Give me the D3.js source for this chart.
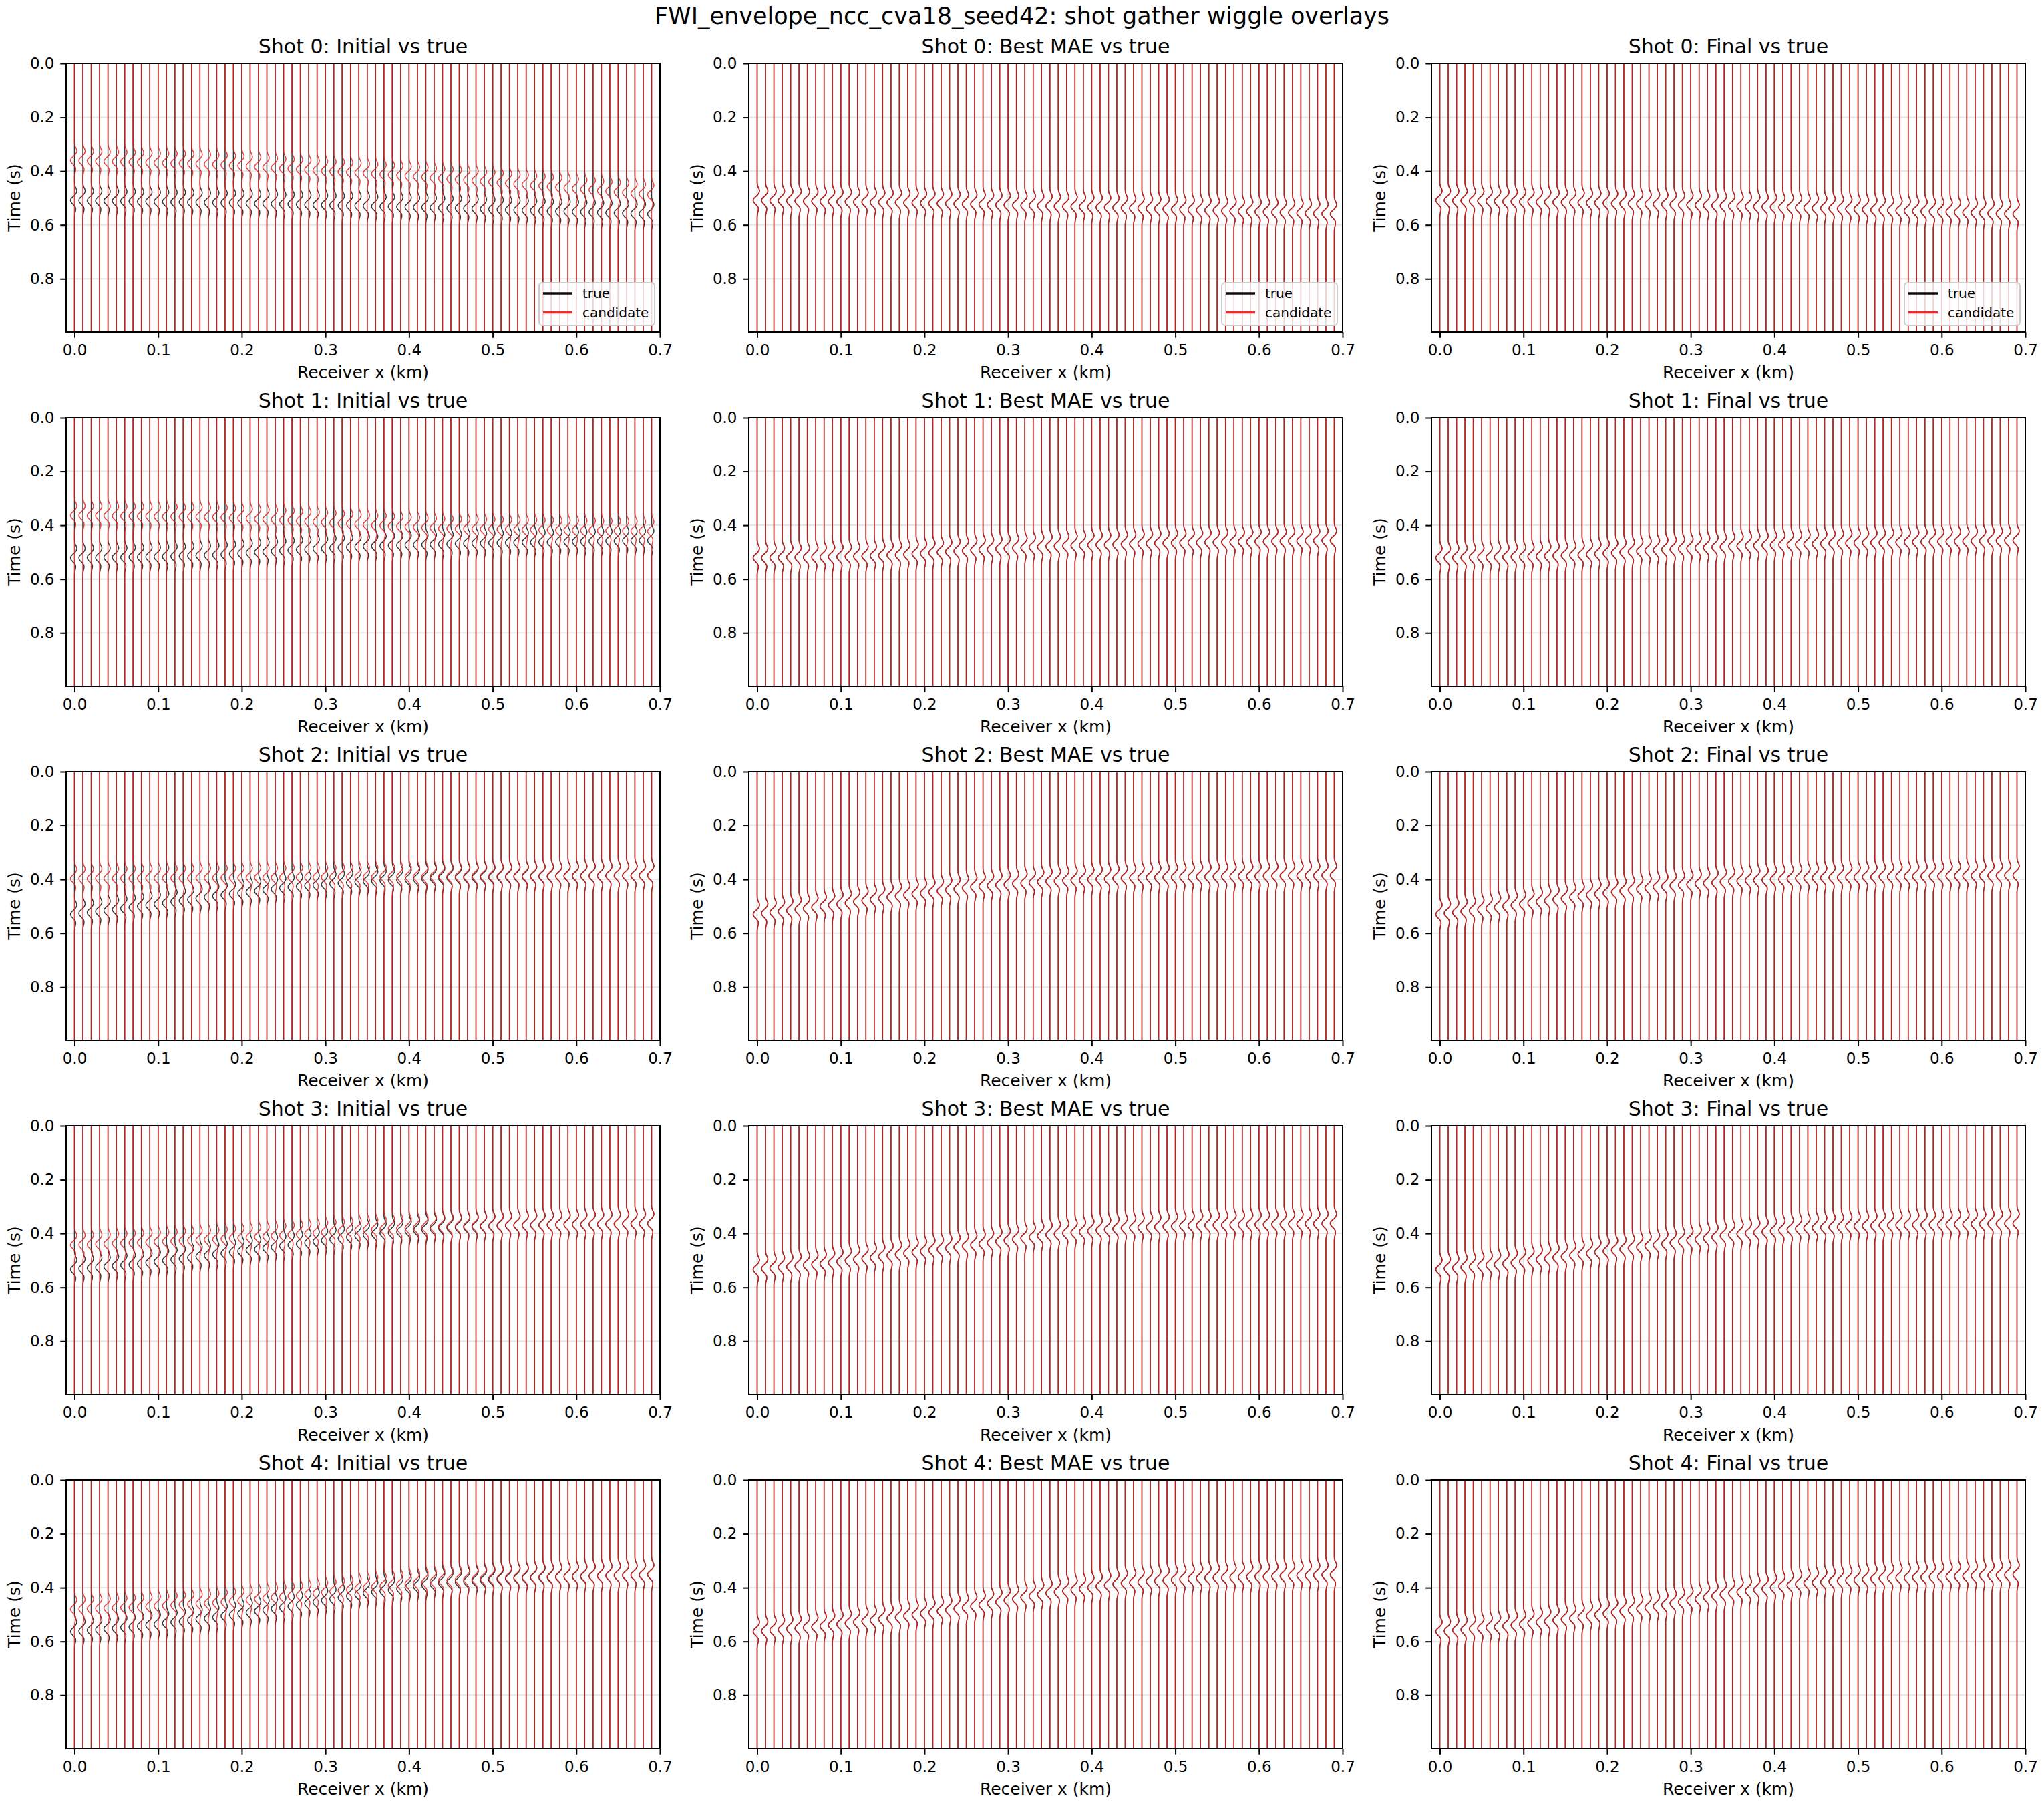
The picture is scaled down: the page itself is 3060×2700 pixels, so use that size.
<!DOCTYPE html>
<html><head><meta charset="utf-8">
<script src="https://cdn.jsdelivr.net/npm/d3@7"></script>
<style>body{margin:0;background:#fff} text{font-family:"DejaVu Sans",sans-serif;fill:#000}</style>
</head><body><svg id="c" width="3060" height="2700"></svg>
<script>
// ---------- data ----------
const receivers = [0.00,0.01,0.02,0.03,0.04,0.05,0.06,0.07,0.08,0.09,0.10,0.11,0.12,0.13,0.14,0.15,0.16,0.17,0.18,0.19,
  0.20,0.21,0.22,0.23,0.24,0.25,0.26,0.27,0.28,0.29,0.30,0.31,0.32,0.33,0.34,0.35,0.36,0.37,0.38,0.39,
  0.40,0.41,0.42,0.43,0.44,0.45,0.46,0.47,0.48,0.49,0.50,0.51,0.52,0.53,0.54,0.55,0.56,0.57,0.58,0.59,
  0.60,0.61,0.62,0.63,0.64,0.65,0.66,0.67,0.68,0.69];
const xTicks = [0.0,0.1,0.2,0.3,0.4,0.5,0.6,0.7];
const xTickLabels = ["0.0","0.1","0.2","0.3","0.4","0.5","0.6","0.7"];
const yTicks = [0.0,0.2,0.4,0.6,0.8];
const yTickLabels = ["0.0","0.2","0.4","0.6","0.8"];
const timeRange = [0, 0.998];
const xRange = [-0.01, 0.70];
// wavelet shape (time offset from main lobe, normalised deflection)
const waveletTau = [-0.070,-0.060,-0.050,-0.042,-0.035,-0.028,-0.020,-0.012,-0.006,0,0.006,0.012,0.018,0.024,0.030,0.036,0.044,0.054,0.064];
const waveletAmp = [0,0.04,0.22,0.48,0.58,0.45,0.08,-0.5,-0.88,-1,-0.88,-0.55,-0.15,0.15,0.3,0.3,0.18,0.05,0];
const shotLabels = ["Shot 0","Shot 1","Shot 2","Shot 3","Shot 4"];
const modelLabels = ["Initial","Best MAE","Final"];
const legendLabels = ["true","candidate"];
const suptitle = "FWI_envelope_ncc_cva18_seed42: shot gather wiggle overlays";

// main-lobe arrival time (s) per receiver, true model
const trueArrivals = [
 [.509,.509,.510,.510,.511,.511,.512,.512,.513,.513,.514,.514,.515,.515,.516,.516,.517,.517,
  .518,.518,.519,.520,.521,.521,.522,.523,.523,.524,.525,.526,.526,.527,.528,.528,.529,.530,
  .531,.532,.532,.533,.534,.535,.535,.536,.537,.538,.538,.539,.540,
  .541,.542,.543,.544,.545,.546,.547,.548,.549,.550,.550,.551,.552,.553,.554,.555,.556,.557,.558,.559,.560],
 [.521,.521,.520,.520,.519,.519,.519,.518,.518,.517,.517,
  .516,.515,.514,.513,.512,.511,.510,
  .508,.506,.504,.502,.500,.498,.496,.494,.492,
  .490,.489,.487,.486,.484,.483,.481,.480,.478,
  .477,.476,.475,.474,.473,.472,.472,.471,.470,.469,.468,.467,.466,
  .466,.465,.465,.464,.464,.463,.463,.462,.462,.461,.461,.460,.460,.459,.459,.458,.458,.457,.457,.456,.456],
 [.530,.526,.523,.519,.516,.512,
  .508,.504,.500,.496,.492,
  .488,.483,.479,.475,.471,.466,.462,
  .458,.454,.451,.447,.443,.439,.436,.432,.428,
  .426,.423,.421,.419,.416,.414,.412,.409,.407,
  .406,.404,.403,.402,.400,.399,.398,.396,.395,
  .394,.394,.393,.393,.392,.392,.391,.391,.390,.390,.389,
  .389,.389,.388,.388,.388,.387,.387,.387,.386,.386,.386,.386,.385,.385],
 [.534,.531,.529,.526,.524,.521,.518,.516,.513,
  .509,.505,.501,.497,.494,.490,.486,.482,.478,
  .474,.470,.466,.462,.459,.455,.451,.447,.443,
  .439,.435,.430,.426,.422,.418,.414,.409,.405,
  .402,.399,.397,.394,.391,.388,.386,.383,.380,
  .379,.378,.377,.376,.374,.373,.372,.371,.370,
  .370,.369,.369,.368,.368,.367,.367,.367,.366,.366,.365,.365,.364,.364,.363,.363],
 [.563,.561,.558,.556,.553,.551,.548,.546,.543,
  .539,.536,.532,.528,.525,.521,.517,.514,.510,
  .505,.501,.496,.492,.487,.483,.478,.474,.469,
  .464,.458,.453,.447,.442,.436,.431,.425,.420,
  .416,.412,.408,.404,.399,.395,.391,.387,.383,
  .381,.379,.377,.375,.373,.371,.369,.367,.365,
  .364,.363,.363,.362,.361,.360,.359,.359,.358,.357,.356,.355,.355,.354,.353,.352]
];
// initial model arrivals
const initialArrivals = [
 [.360,.361,.362,.363,.364,.364,.365,.366,.367,.368,.369,.370,.371,.371,.372,.373,.374,.375,
  .377,.379,.380,.382,.384,.386,.388,.390,.391,.393,.395,.397,.399,.401,.402,.404,.406,.408,
  .410,.412,.414,.416,.418,.420,.422,.425,.427,.429,.431,.433,.435,
  .438,.440,.443,.445,.448,.450,.453,.455,.458,.460,.463,.465,.468,.470,.473,.475,.478,.480,.483,.485,.488],
 [.364,.364,.365,.365,.365,.366,.366,.366,.367,.367,.368,.368,.368,.369,.369,.369,.370,.370,
  .371,.373,.374,.375,.377,.378,.379,.381,.382,
  .384,.386,.387,.389,.391,.393,.394,.396,.398,
  .400,.401,.403,.404,.406,.407,.409,.410,.412,
  .412,.413,.413,.414,.414,.414,.415,.415,.416,.416,.416,.417,.417,.418,.418,.418,.419,.419,.420,.420,.420,.421,.421,.422,.422],
 [.397,.397,.397,.396,.396,.396,.396,.396,.396,.395,
  .395,.395,.395,.395,.395,.394,.394,.394,.394,.394,
  .394,.393,.393,.393,.393,.393,.392,.392,.392,.392,
  .392,.392,.391,.391,.391,.391,.391,.390,.390,.390,
  .390,.390,.390,.389,.389,.389,.389,.389,.388,.388,
  .388,.388,.388,.388,.387,.387,.387,.387,.387,.387,
  .386,.386,.386,.386,.386,.386,.386,.386,.386,.386],
 [.443,.442,.441,.440,.439,.437,.436,.435,.434,
  .433,.431,.430,.429,.427,.426,.425,.423,.422,
  .420,.418,.417,.415,.413,.411,.409,.407,.405,
  .403,.401,.399,.396,.394,.392,.390,.388,.386,
  .385,.384,.382,.381,.380,.379,.377,.376,.375,
  .374,.374,.373,.372,.372,.371,.370,.370,.369,
  .369,.368,.368,.368,.367,.367,.367,.366,.366,.366,.365,.365,.364,.364,.364,.363],
 [.480,.479,.478,.477,.476,.475,.474,.473,.472,
  .470,.468,.467,.465,.463,.461,.459,.458,.456,
  .453,.450,.448,.445,.442,.439,.436,.434,.431,
  .428,.424,.421,.417,.414,.410,.407,.403,.400,
  .397,.394,.391,.388,.386,.383,.380,.377,.374,
  .373,.371,.370,.369,.367,.366,.365,.363,.362,
  .361,.361,.360,.360,.359,.359,.358,.357,.357,.356,.356,.355,.354,.354,.353,.352]
];
// best-MAE and final models overlap the true gathers in the picture
const bestArrivals = trueArrivals;
const finalArrivals = trueArrivals;
const candidateSets = [initialArrivals, bestArrivals, finalArrivals];

// ---------- layout / styles ----------
const svg = d3.select('#c');
svg.append('rect').attr('width',3060).attr('height',2700).attr('fill','#fff');
const W = 889, H = 402;
const colLeft = [99, 1121, 2143];
const rowTop = r => 95 + r*530;
const ampScale = 0.0048;
const trueColor = '#000', candColor = 'rgb(232,22,22)';

const x = d3.scaleLinear().domain(xRange).range([0, W]);
const y = d3.scaleLinear().domain(timeRange).range([0, H]);
const line = d3.line().x(d => x(d[0])).y(d => y(d[1])).curve(d3.curveMonotoneY);
function tracePts(x0, tArr) {
  const pts = [[x0, timeRange[0]]];
  waveletTau.forEach((tau, k) => pts.push([x0 + ampScale*waveletAmp[k], tArr + tau]));
  pts.push([x0, timeRange[1]]);
  return pts;
}

svg.append('text').attr('x',1530).attr('y',36).attr('text-anchor','middle')
  .style('font-size','35px').text(suptitle);

shotLabels.forEach((shot, s) => {
  modelLabels.forEach((model, c) => {
    const g = svg.append('g').attr('transform', `translate(${colLeft[c]},${rowTop(s)})`);
    const cid = `clip${s}_${c}`;
    g.append('clipPath').attr('id', cid).append('rect').attr('width', W).attr('height', H);
    const inner = g.append('g').attr('clip-path', `url(#${cid})`);
    // grid
    inner.selectAll('.gy').data(yTicks).join('line')
      .attr('x1',0).attr('x2',W).attr('y1',d=>y(d)).attr('y2',d=>y(d))
      .attr('stroke','#b0b0b0').attr('stroke-opacity',0.3).attr('stroke-width',2);
    inner.selectAll('.gx').data(xTicks).join('line')
      .attr('y1',0).attr('y2',H).attr('x1',d=>x(d)).attr('x2',d=>x(d))
      .attr('stroke','#b0b0b0').attr('stroke-opacity',0.3).attr('stroke-width',2);
    // true traces
    inner.append('g').selectAll('path').data(receivers).join('path')
      .attr('d', (r, i) => line(tracePts(r, trueArrivals[s][i])))
      .attr('fill','none').attr('stroke',trueColor).attr('stroke-width',1.5).attr('stroke-opacity',0.78);
    // candidate traces
    const cand = candidateSets[c][s];
    inner.append('g').selectAll('path').data(receivers).join('path')
      .attr('d', (r, i) => line(tracePts(r, cand[i])))
      .attr('fill','none').attr('stroke',candColor).attr('stroke-width',1.5).attr('stroke-opacity',0.82);
    // axes
    const xa = g.append('g').attr('transform',`translate(0,${H})`)
      .call(d3.axisBottom(x).tickValues(xTicks).tickFormat((d,i)=>xTickLabels[i]).tickSize(8.75).tickPadding(9.5));
    const ya = g.append('g')
      .call(d3.axisLeft(y).tickValues(yTicks).tickFormat((d,i)=>yTickLabels[i]).tickSize(8.75).tickPadding(8.75));
    [xa, ya].forEach(a => {
      a.select('.domain').remove();
      a.selectAll('line').attr('stroke','#000').attr('stroke-width',2);
      a.selectAll('text').style('font-size','23px').style('font-family','"DejaVu Sans",sans-serif').attr('fill','#000');
    });
    g.append('rect').attr('width',W).attr('height',H).attr('fill','none')
      .attr('stroke','#000').attr('stroke-width',2);
    // title and labels
    g.append('text').attr('x',W/2).attr('y',-15).attr('text-anchor','middle')
      .style('font-size','30px').text(`${shot}: ${model} vs true`);
    g.append('text').attr('x',W/2).attr('y',H+69).attr('text-anchor','middle')
      .style('font-size','25px').text('Receiver x (km)');
    g.append('text').attr('transform',`translate(-69,${H/2}) rotate(-90)`).attr('text-anchor','middle')
      .style('font-size','25px').text('Time (s)');
    // legend (top row)
    if (s === 0) {
      const lg = g.append('g').attr('transform', `translate(${W-181},${H-74})`);
      lg.append('rect').attr('width',173).attr('height',64).attr('rx',5)
        .attr('fill','#fff').attr('fill-opacity',0.8).attr('stroke','#cccccc').attr('stroke-width',2);
      legendLabels.forEach((lab, k) => {
        const yy = 16 + k*28.5;
        lg.append('line').attr('x1',6).attr('x2',50).attr('y1',yy).attr('y2',yy)
          .attr('stroke', k===0 ? trueColor : candColor).attr('stroke-width',3.5)
          .attr('stroke-opacity', k===0 ? 0.95 : 0.9);
        lg.append('text').attr('x',65).attr('y',yy+7).style('font-size','20px').text(lab);
      });
    }
  });
});
</script></body></html>
